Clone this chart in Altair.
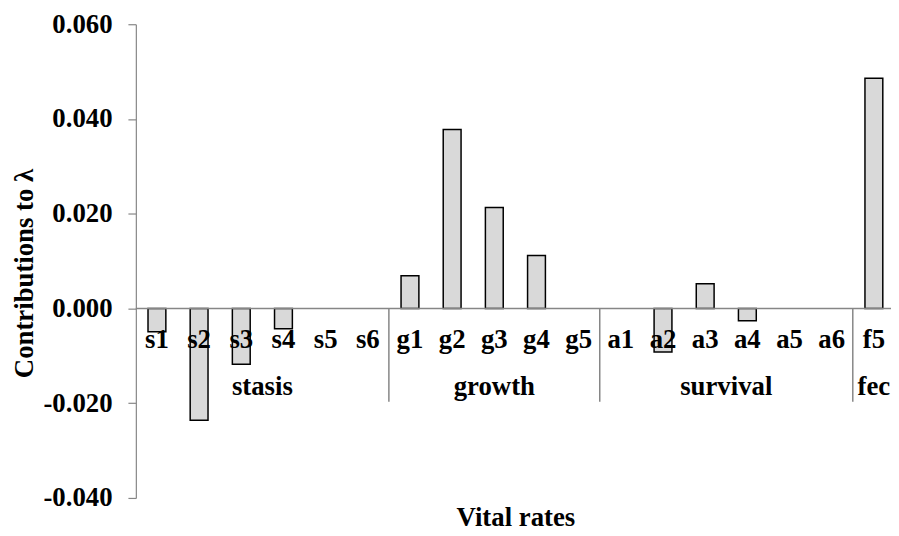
import altair as alt
import pandas as pd

# ---- data ----
categories = ["s1", "s2", "s3", "s4", "s5", "s6",
              "g1", "g2", "g3", "g4", "g5",
              "a1", "a2", "a3", "a4", "a5", "a6",
              "f5"]
values = [-0.0049, -0.0236, -0.0118, -0.0043, 0.0, 0.0,
          0.0069, 0.0378, 0.0213, 0.0112, 0.0,
          0.0, -0.0092, 0.0052, -0.0026, 0.0, 0.0,
          0.0486]
groups = ["stasis", "growth", "survival", "fec"]
group_sizes = [6, 5, 6, 1]
y_ticks = [-0.04, -0.02, 0.0, 0.02, 0.04, 0.06]
y_domain = [-0.04, 0.06]
sep_depth = -0.0197

# ---- styling ----
FONT = "Liberation Serif"
GRAY = "#868686"
FILL = "#d9d9d9"
PLOT_W = 762
RANGE_W = 766
PLOT_H = 478
FS = 27

df = pd.DataFrame({"cat": categories, "value": values})

grp_rows = []
sep_rows = []
start = 0
for g, n in zip(groups, group_sizes):
    grp_rows.append({"group": g, "anchor": categories[start + n // 2], "even": n % 2 == 0})
    if start > 0:
        sep_rows.append({"cat": categories[start]})
    start += n
grp_df = pd.DataFrame(grp_rows)
sep_df = pd.DataFrame(sep_rows)

xs = alt.Scale(domain=categories, range=[0, RANGE_W], paddingInner=0, paddingOuter=0)
x_axis = alt.Axis(title="Vital rates", labels=False, ticks=False, domain=False, grid=False,
                  titleFont=FONT, titleFontSize=FS, titleFontWeight="bold", titleColor="black",
                  titleX=383, titleY=28, titleBaseline="alphabetic", titleAlign="center")
ys = alt.Scale(domain=y_domain, nice=False, zero=False)
y_axis = alt.Axis(values=y_ticks,
                  labelExpr="datum.value < 0 ? '-' + format(-datum.value, '.3f') : format(datum.value, '.3f')",
                  grid=False, domainColor=GRAY, domainWidth=1.2, tickColor=GRAY, tickWidth=1.2,
                  tickSize=8, labelFont=FONT, labelFontSize=FS, labelFontWeight="bold",
                  labelColor="black", labelPadding=16,
                  title="Contributions to λ", titleFont=FONT, titleFontSize=FS,
                  titleFontWeight="bold", titleColor="black", titleAngle=270,
                  titleX=-112, titleY=251, titleAlign="center", titleBaseline="middle")


def X(field, bp=None):
    if bp is None:
        return alt.X(field, type="nominal", scale=xs, axis=x_axis, sort=None)
    return alt.X(field, type="nominal", scale=xs, axis=x_axis, sort=None, bandPosition=bp)


bars = alt.Chart(df).transform_filter("datum.value != 0").mark_bar(
    size=18, fill=FILL, stroke="black", strokeWidth=1.5
).encode(
    x=X("cat"),
    y=alt.Y("value:Q", scale=ys, axis=y_axis),
)

zero_line = alt.Chart(df).mark_rule(color=GRAY, strokeWidth=1.5).encode(
    x=alt.value(0), x2=alt.value(RANGE_W), y=alt.datum(0, scale=ys)
).transform_filter("datum.cat == 's1'")

cat_labels = alt.Chart(df).mark_text(
    font=FONT, fontSize=FS, fontWeight="bold", color="black", baseline="alphabetic", dy=40
).encode(x=X("cat"), y=alt.datum(0, scale=ys), text="cat:N")

seps = alt.Chart(sep_df).mark_rule(color=GRAY, strokeWidth=1.5).encode(
    x=X("cat", 0), y=alt.datum(0, scale=ys), y2=alt.datum(sep_depth)
)

grp_even = alt.Chart(grp_df).transform_filter("datum.even").mark_text(
    font=FONT, fontSize=FS, fontWeight="bold", color="black", baseline="alphabetic", dy=87
).encode(x=X("anchor", 0), y=alt.datum(0, scale=ys), text="group:N")

grp_odd = alt.Chart(grp_df).transform_filter("!datum.even").mark_text(
    font=FONT, fontSize=FS, fontWeight="bold", color="black", baseline="alphabetic", dy=87
).encode(x=X("anchor", 0.5), y=alt.datum(0, scale=ys), text="group:N")

chart = alt.layer(bars, zero_line, seps, cat_labels, grp_even, grp_odd).properties(
    width=PLOT_W, height=PLOT_H,
    autosize=alt.AutoSizeParams(type="none"),
    padding={"left": 129, "top": 14, "right": 0, "bottom": 34},
).configure_view(stroke=None)

chart.save("out.html", embed_options={"renderer": "svg", "actions": False})
